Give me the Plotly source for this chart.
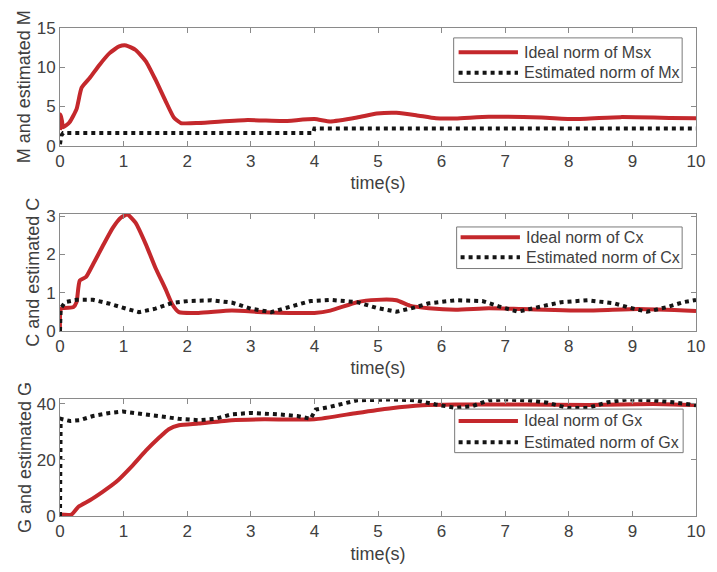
import plotly.graph_objects as go
from plotly.subplots import make_subplots

# ---- Data ----
t_m_ideal = [0, 0.01, 0.03, 0.05, 0.15, 0.26, 0.34, 0.47, 0.62, 0.78, 0.93, 1.04, 1.19, 1.35, 1.5, 1.66,
             1.79, 1.9, 2.18, 2.95, 3.5, 4.0, 4.25, 4.67, 4.98, 5.29, 5.6, 5.91, 6.22, 6.74, 7.57, 8.09,
             8.81, 9.6, 10]
m_ideal = [2.0, 4.0, 3.2, 2.35, 3.0, 4.67, 7.4, 8.66, 10.3, 11.8, 12.65, 12.78, 12.2, 10.76, 8.45, 5.7,
           3.6, 2.9, 2.9, 3.28, 3.15, 3.4, 3.1, 3.6, 4.1, 4.2, 3.9, 3.5, 3.48, 3.7, 3.6, 3.4,
           3.65, 3.55, 3.5]
t_m_est = [0, 0.02, 0.05, 3.98, 4.0, 10]
m_est = [0.2, 1.3, 1.62, 1.62, 2.2, 2.2]

t_c_ideal = [0, 0.02, 0.21, 0.26, 0.31, 0.41, 0.52, 0.67, 0.83, 0.96, 1.06, 1.19, 1.35, 1.5, 1.66, 1.76,
             1.87, 2.18, 2.7, 3.21, 4.0, 4.25, 4.67, 4.98, 5.29, 5.5, 5.8, 6.22, 6.74, 7.26, 8.3, 9.1, 10]
c_ideal = [0.0, 0.58, 0.62, 0.75, 1.31, 1.41, 1.74, 2.21, 2.69, 2.96, 3.04, 2.82, 2.26, 1.65, 1.09, 0.71,
           0.49, 0.47, 0.53, 0.49, 0.47, 0.53, 0.75, 0.81, 0.8, 0.66, 0.59, 0.55, 0.59, 0.57, 0.53, 0.57, 0.52]
t_c_est = [0, 0.01, 0.08, 0.26, 0.52, 0.78, 1.04, 1.24, 1.5, 1.76, 2.02, 2.38, 2.7, 3.0, 3.32, 3.63,
           3.94, 4.25, 4.67, 4.98, 5.29, 5.55, 5.8, 6.22, 6.64, 6.9, 7.2, 7.57, 7.88, 8.3, 8.71, 8.97,
           9.23, 9.54, 9.8, 10]
c_est = [0.0, 0.58, 0.75, 0.81, 0.81, 0.71, 0.58, 0.49, 0.58, 0.73, 0.78, 0.8, 0.74, 0.58, 0.49, 0.64,
         0.78, 0.81, 0.75, 0.6, 0.5, 0.6, 0.72, 0.8, 0.78, 0.64, 0.5, 0.64, 0.75, 0.8, 0.72, 0.6,
         0.5, 0.62, 0.75, 0.81]

t_g_ideal = [0, 0.18, 0.29, 0.47, 0.67, 0.88, 1.14, 1.35, 1.56, 1.71, 1.87, 2.18, 2.7, 3.21, 4.0, 4.67,
             5.18, 5.7, 6.22, 7.26, 8.3, 9.33, 10]
g_ideal = [0.5, 0.5, 3.3, 5.6, 8.6, 12.1, 18.0, 23.3, 28.0, 31.0, 32.4, 33.0, 34.2, 34.5, 34.5, 36.8,
           38.4, 39.5, 39.8, 39.8, 39.6, 40.0, 39.6]
t_g_est = [0, 0.01, 0.16, 0.31, 0.52, 0.78, 0.99, 1.24, 1.56, 1.87, 2.18, 2.44, 2.7, 3.0, 3.42, 3.73,
           3.94, 4.02, 4.25, 4.67, 5.18, 5.6, 5.91, 6.22, 6.48, 6.74, 7.0, 7.36, 7.67, 7.98, 8.3, 8.61,
           8.92, 9.33, 9.64, 10]
g_est = [0.0, 34.7, 33.9, 34.2, 35.7, 36.8, 37.3, 36.6, 35.9, 34.7, 34.2, 34.7, 36.3, 36.8, 36.3, 35.7,
         34.7, 38.0, 39.0, 41.3, 41.6, 41.3, 39.8, 38.6, 39.2, 41.3, 41.6, 41.3, 40.4, 38.6, 38.6, 40.6,
         41.6, 41.3, 40.6, 39.5]

names = [("Ideal norm of Msx", "Estimated norm of Mx"),
         ("Ideal norm of Cx", "Estimated norm of Cx"),
         ("Ideal norm of Gx", "Estimated norm of Gx")]
ytitles = ["M and estimated M", "C and estimated C", "G and estimated G"]
yranges = [[0, 15], [0, 3.05], [0, 41.7]]
ytickvals = [[0, 5, 10, 15], [0, 1, 2, 3], [0, 20, 40]]
xticks = list(range(0, 11))

series = [(t_m_ideal, m_ideal, t_m_est, m_est),
          (t_c_ideal, c_ideal, t_c_est, c_est),
          (t_g_ideal, g_ideal, t_g_est, g_est)]

RED = "#c4282c"
BLK = "#151515"
AX = "#8a8a8a"
TXT = "#404040"
FONT = "Liberation Sans, Arial, sans-serif"
DOT = "4px,4px"

# plot-area geometry in pixels: left 60, right 703, top 28, bottom 521
PL, PR, PT, PB = 60.0, 703.0, 28.0, 521.0
def fx(px):
    return (px - PL) / (PR - PL)
def fy(py):
    return (PB - py) / (PB - PT)

fig = make_subplots(rows=3, cols=1, vertical_spacing=0.12)
for i, (ti, yi, te, ye) in enumerate(series):
    fig.add_trace(go.Scatter(x=ti, y=yi, mode="lines", name=names[i][0],
                             line=dict(color=RED, width=4, shape="spline", smoothing=0.5),
                             showlegend=False), row=i + 1, col=1)
    fig.add_trace(go.Scatter(x=te, y=ye, mode="lines", name=names[i][1],
                             line=dict(color=BLK, width=4, dash=DOT),
                             showlegend=False), row=i + 1, col=1)

panel_px = [(28, 147), (216, 334), (403, 521)]
domains = [[fy(b), fy(t)] for (t, b) in panel_px]
domains[0][1] = 1.0
domains[2][0] = 0.0
ytitle_x = [24, 33, 24]

# legend boxes: box l, t, r, b, row1 y, row2 y, line x0, x1, text x (pixels)
legend_px = [(458, 38, 689, 83, 52.5, 73.3, 463, 523, 527),
             (461, 229, 689, 271, 239.5, 259.5, 465, 525, 529),
             (459, 413, 690, 457, 425.0, 446.5, 463, 523, 527)]

shapes = []
annotations = []
for i in range(3):
    l, t, r, b, r1, r2, lx0, lx1, tx = legend_px[i]
    shapes.append(dict(type="rect", xref="paper", yref="paper", x0=fx(l), x1=fx(r), y0=fy(b), y1=fy(t),
                       line=dict(color="#7a7a7a", width=1), fillcolor="white", layer="above"))
    shapes.append(dict(type="line", xref="paper", yref="paper", x0=fx(lx0), x1=fx(lx1), y0=fy(r1), y1=fy(r1),
                       line=dict(color=RED, width=4), layer="above"))
    shapes.append(dict(type="line", xref="paper", yref="paper", x0=fx(lx0), x1=fx(lx1), y0=fy(r2), y1=fy(r2),
                       line=dict(color=BLK, width=4, dash=DOT), layer="above"))
    for txt, ry in ((names[i][0], r1), (names[i][1], r2)):
        annotations.append(dict(text=txt, xref="paper", yref="paper", x=fx(tx), y=fy(ry),
                                xanchor="left", yanchor="middle", showarrow=False,
                                font=dict(size=16, color=TXT)))
    t_, b_ = panel_px[i]
    annotations.append(dict(text=ytitles[i], xref="paper", yref="paper", x=fx(ytitle_x[i]),
                            y=fy((t_ + b_) / 2.0), xanchor="center", yanchor="middle", textangle=-90,
                            showarrow=False, font=dict(size=18, color=TXT)))

layout = dict(
    width=717, height=572,
    margin=dict(l=60, r=14, t=28, b=51),
    paper_bgcolor="white", plot_bgcolor="white",
    font=dict(family=FONT, color=TXT, size=17),
    showlegend=False,
    shapes=shapes, annotations=annotations,
)
for i in range(3):
    sx = "" if i == 0 else str(i + 1)
    layout["xaxis" + sx] = dict(
        range=[0, 10], tickvals=xticks, ticks="inside", ticklen=5, tickcolor=AX,
        showline=True, linecolor=AX, linewidth=1, mirror="ticks", showgrid=False, zeroline=False,
        title=dict(text="time(s)", font=dict(size=18), standoff=6),
        tickfont=dict(size=17), anchor="y" + sx,
    )
    layout["yaxis" + sx] = dict(
        range=yranges[i], tickvals=ytickvals[i], ticks="inside", ticklen=5, tickcolor=AX,
        showline=True, linecolor=AX, linewidth=1, mirror="ticks", showgrid=False, zeroline=False,
        tickfont=dict(size=17), domain=domains[i], anchor="x" + sx,
    )

fig.update_layout(**layout)
fig.write_html("out.html")
